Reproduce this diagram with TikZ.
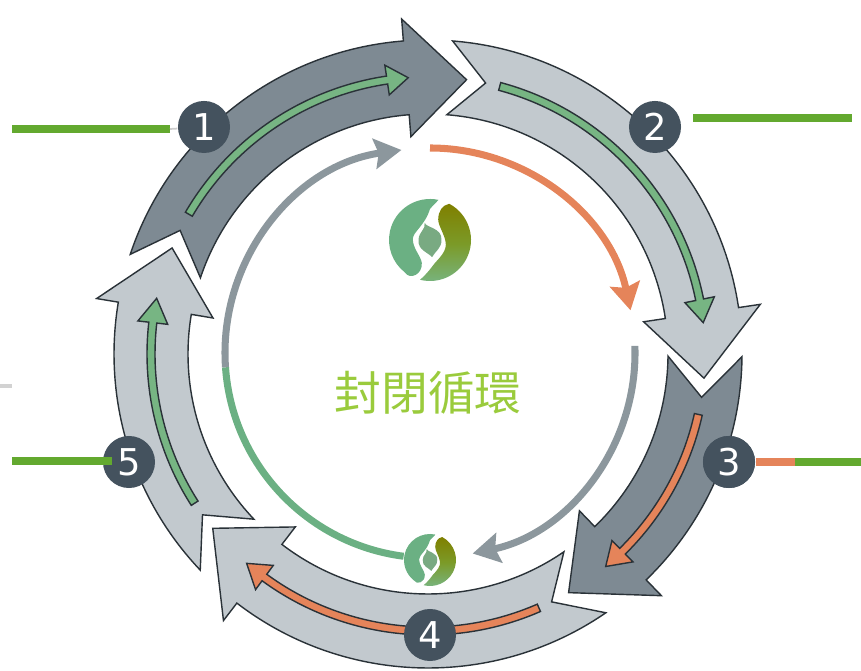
\documentclass[tikz,border=0pt]{standalone}
\usepackage{fontspec}
\usepackage{tikz}
\usetikzlibrary{arrows.meta}
\setsansfont{DejaVu Sans}
\newfontfamily\titlefont{Noto Sans CJK TC}
\definecolor{bandline}{HTML}{2A3238}
\definecolor{banddark}{HTML}{7E8A93}
\definecolor{bandlight}{HTML}{C2C9CE}
\definecolor{inkgreen}{HTML}{77B583}
\definecolor{inkorange}{HTML}{E5845A}
\definecolor{inkgray}{HTML}{8C979D}
\definecolor{stepfill}{HTML}{44525E}
\definecolor{bargreen}{HTML}{63A92F}
\definecolor{titlegreen}{HTML}{9ACB3C}
\tikzset{
  bandarrow/.style={draw=bandline, line width=0.4pt, fill=#1},
  looparrow/.style={draw=#1, line width=2pt, -{Stealth[length=0.27cm, width=0.3cm, inset=0.04cm, fill=#1]}},
  stepnode/.style={circle, fill=stepfill, minimum size=0.52cm, inner sep=0pt, text=white, font=\sffamily\fontsize{10.5}{12}\selectfont},
  leader/.style={draw=#1, line width=2.3pt},
  logo/.pic={
    \fill[inkgreen!90!teal] (78:1) arc[start angle=78, end angle=232, radius=1]
      .. controls (-.5,-.98) and (-.18,-.85) .. (-.2,-.56)
      .. controls (-.22,-.4) and (-.42,-.2) .. (-.42,.02)
      .. controls (-.42,.2) and (-.12,.35) .. (0,.76) -- cycle;
    \shade[top color=olive!70!gray, bottom color=inkgreen] (62:1) arc[start angle=62, end angle=-104, radius=1]
      .. controls (-.05,-.8) and (.05,-.65) .. (.12,-.56)
      .. controls (.25,-.42) and (.42,-.25) .. (.38,-.05)
      .. controls (.35,.15) and (.2,.35) .. (.2,.5)
      .. controls (.2,.7) and (.3,.85) .. (62:1) -- cycle;
    \fill[inkgreen!80!gray] (-.13,.42) .. controls (-.1,.3) and (.3,.3) .. (.28,0)
      .. controls (.28,-.2) and (.15,-.25) .. (.05,-.42)
      .. controls (-.05,-.3) and (-.3,-.25) .. (-.28,0)
      .. controls (-.28,.2) and (-.1,.25) .. (-.13,.42) -- cycle;
  }
}
% style, radius, half shaft, half head, tail, notch, head, tip
\newcommand{\ringarrow}[8]{
  \draw[#1] (#5:#2+#3) arc[start angle=#5, end angle=#7, radius=#2+#3]
    -- (#7:#2+#4) -- (#8:#2) -- (#7:#2-#4) -- (#7:#2-#3)
    arc[start angle=#7, end angle=#5, radius=#2-#3] -- (#6:#2) -- cycle;
}
\begin{document}
\begin{tikzpicture}[x=0.01cm, y=0.01cm]
  \useasboundingbox (0,0) rectangle (861,-671);

  % Outer ring
  \begin{scope}[shift={(428,-354)}]
    \ringarrow{bandarrow=banddark}{277}{37}{59}{161.5}{153.5}{94.5}{82}
    \ringarrow{bandarrow=bandlight}{277}{37}{59}{85.5}{78}{8.5}{-5}
    \ringarrow{bandarrow=banddark}{277}{37}{59}{-0.5}{-9}{-46}{-59.5}
    \ringarrow{bandarrow=bandlight}{277}{37}{59}{-55.5}{-63.5}{-127.5}{-141}
    \ringarrow{bandarrow=bandlight}{277}{37}{59}{223.5}{215.5}{170.5}{157.5}

    \ringarrow{bandarrow=inkgreen}{277}{4}{15}{149.7}{149.7}{98.5}{94.1}
    \ringarrow{bandarrow=inkgreen}{277}{4}{15}{75}{75}{11.3}{6.5}
    \ringarrow{bandarrow=inkorange}{277}{4}{15}{-12.6}{-12.6}{-45.4}{-50.1}
    \ringarrow{bandarrow=inkorange}{277}{4}{15}{-66.4}{-66.4}{-126.2}{-130.9}
    \ringarrow{bandarrow=inkgreen}{277}{4}{15}{212.6}{212.6}{173.5}{168.4}
  \end{scope}

  % Inner loop
  \begin{scope}[shift={(430,-353)}]
    \draw[looparrow=inkorange] (90:205) arc[start angle=90, end angle=12, radius=205];
    \draw[looparrow=inkgray] (2:205) arc[start angle=2, end angle=-78, radius=205];
    \draw[draw=inkgreen!90!teal, line width=2pt] (262.6:205) arc[start angle=262.6, end angle=184, radius=205];
    \draw[looparrow=inkgray] (184:205) arc[start angle=184, end angle=98, radius=205];
  \end{scope}

  \pic[scale=41] (logotop) at (430,-240) {logo};
  \pic[scale=26] (logobottom) at (430,-560) {logo};
  \node[titlegreen, font=\titlefont\fontsize{13.3}{16}\selectfont] (title) at (428,-393) {封閉循環};

  % Steps
  \node[stepnode] (n1) at (204,-127) {1};
  \node[stepnode] (n2) at (655,-127) {2};
  \node[stepnode] (n3) at (729,-462) {3};
  \node[stepnode] (n4) at (430,-635) {4};
  \node[stepnode] (n5) at (129,-462) {5};

  % Leaders
  \coordinate (bar1a) at (12,-129);
  \coordinate (bar1b) at (170,-129);
  \coordinate (bar2a) at (693,-118);
  \coordinate (bar2b) at (852,-118);
  \coordinate (bar3a) at (795,-462);
  \coordinate (bar3b) at (861,-462);
  \coordinate (bar5a) at (12,-461);
  \coordinate (bar5b) at (112,-461);
  \coordinate (marka) at (0,-386);
  \coordinate (markb) at (12,-386);
  \draw[leader=bargreen] (bar1a) -- (bar1b);
  \draw[gray!40, line width=0.5pt] (bar1b) -- (n1);
  \draw[leader=bargreen] (bar2a) -- (bar2b);
  \draw[leader=inkorange] (n3) -- (bar3a);
  \node[stepnode] at (n3) {3};
  \draw[leader=bargreen] (bar3a) -- (bar3b);
  \draw[leader=bargreen] (bar5a) -- (bar5b);
  \draw[gray!35, line width=1pt] (marka) -- (markb);
\end{tikzpicture}
\end{document}
